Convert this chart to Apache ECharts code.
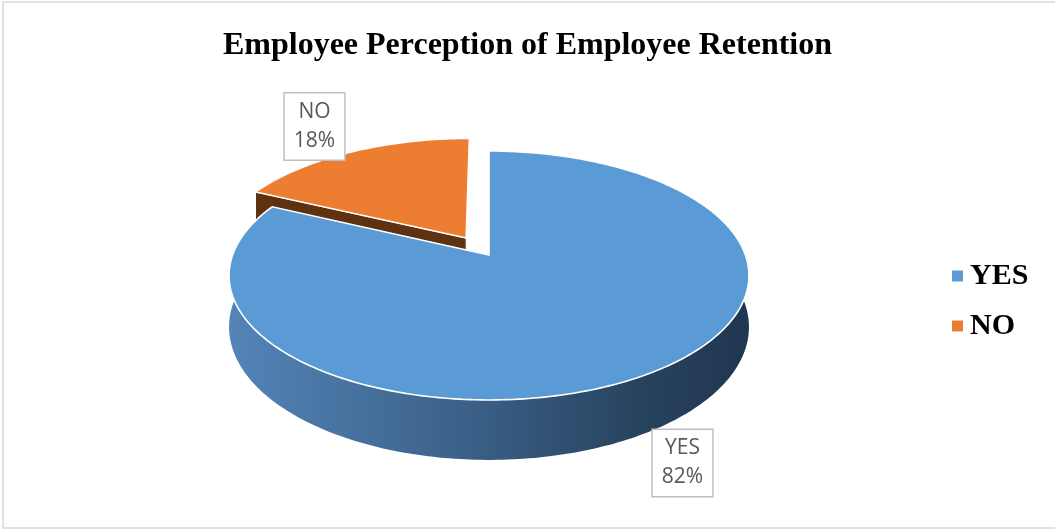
<!DOCTYPE html>
<html><head><meta charset="utf-8">
<script src="https://cdn.jsdelivr.net/npm/echarts@6/dist/echarts.min.js"></script>
<style>html,body{margin:0;padding:0;background:#fff}#c{width:1055px;height:529px}</style>
</head><body><div id="c"></div>
<script>
// ---- data ----
const titleText = 'Employee Perception of Employee Retention';
const categories = ['YES', 'NO'];
const values = [82, 18];
const colors = ['#5B9BD5', '#ED7D31'];
const sideColors = ['#3A6189', '#5E3210'];
const explode = [0, 0.17];

// ---- 3D pie projection (style constants) ----
const CX = 489, CY = 255, RX = 256.4, RY = 121.1, K = 0.1646, HC = 50.1;
const DEG = Math.PI / 180;
const total = values.reduce((a, b) => a + b, 0);
const startAngles = values.map((v, i) => values.slice(0, i).reduce((a, b) => a + b, 0) / total * 360);
const labelPos = [[682.5, 463], [314.5, 126.5]];

function proj(u, v, h) {
  const d = 1 + K * v;
  return [CX + RX * u / d, CY - RY * v / d + h * HC / d];
}

function makeRender(i) {
  return function (params, api) {
    const val = api.value(0);
    const a0 = startAngles[i], a1 = a0 + val / total * 360;
    const mid = (a0 + a1) / 2 * DEG;
    const ou = explode[i] * Math.sin(mid), ov = explode[i] * Math.cos(mid);
    const P = (th, r, h) => proj(ou + r * Math.sin(th * DEG), ov + r * Math.cos(th * DEG), h);
    const n = Math.ceil(a1 - a0);
    const arcTop = [], arcBot = [];
    for (let j = 0; j <= n; j++) {
      const t = a0 + (a1 - a0) * j / n;
      arcTop.push(P(t, 1, 0));
      arcBot.push(P(t, 1, 1));
    }
    const children = [];
    if (i === 0) {
      children.push({
        type: 'polygon', z2: 0,
        shape: { points: arcTop.concat(arcBot.slice().reverse()) },
        style: {
          fill: new echarts.graphic.LinearGradient(0, 0, 1, 0, [
            { offset: 0, color: '#5484B8' },
            { offset: 0.45, color: '#3B6189' },
            { offset: 0.8, color: '#27425D' },
            { offset: 1, color: '#213650' }
          ]),
          stroke: null
        }
      });
    } else {
      children.push({
        type: 'polygon', z2: 0,
        shape: { points: [P(a0, 0, 0), P(a0, 1, 0), P(a0, 1, 1), P(a0, 0, 1)] },
        style: { fill: sideColors[i], stroke: '#fff', lineWidth: 1 }
      });
    }
    children.push({
      type: 'polygon', z2: 1,
      shape: { points: [P(0, 0, 0)].concat(arcTop) },
      style: { fill: colors[i], stroke: '#fff', lineWidth: 1.6, lineJoin: 'miter' }
    });
    const pct = Math.round(val / total * 100);
    children.push({
      type: 'text', z2: 5,
      x: labelPos[i][0], y: labelPos[i][1],
      style: {
        text: categories[i] + '\n' + pct + '%',
        align: 'center', verticalAlign: 'middle',
        font: '21px "Open Sans"', lineHeight: 29, fill: '#595959',
        backgroundColor: '#fff', borderColor: '#BFBFBF', borderWidth: 1.5,
        padding: [4, 9, 4, 9]
      }
    });
    return { type: 'group', children };
  };
}

const chart = echarts.init(document.getElementById('c'), null, { renderer: 'canvas' });
chart.setOption({
  animation: false,
  backgroundColor: '#fff',
  title: {
    text: titleText, left: 'center', top: 30, padding: 0,
    textStyle: { fontFamily: 'Liberation Serif', fontWeight: 'bold', fontSize: 32, color: '#000' }
  },
  legend: {
    orient: 'vertical', left: 947, top: 256, itemWidth: 11, itemHeight: 11, itemGap: 20,
    icon: 'rect', data: categories,
    textStyle: { fontFamily: 'Liberation Serif', fontWeight: 'bold', fontSize: 30, color: '#000', padding: [0, 0, 0, 2] }
  },
  graphic: [{
    type: 'rect', z: -1, shape: { x: 3, y: 2, width: 1070, height: 526 },
    style: { fill: null, stroke: '#D9D9D9', lineWidth: 1.5 }
  }],
  series: categories.map((name, i) => ({
    type: 'custom', name, coordinateSystem: 'none', z: i === 0 ? 3 : 2,
    itemStyle: { color: colors[i] },
    data: [[values[i]]],
    renderItem: makeRender(i)
  }))
});
</script>
</body></html>
